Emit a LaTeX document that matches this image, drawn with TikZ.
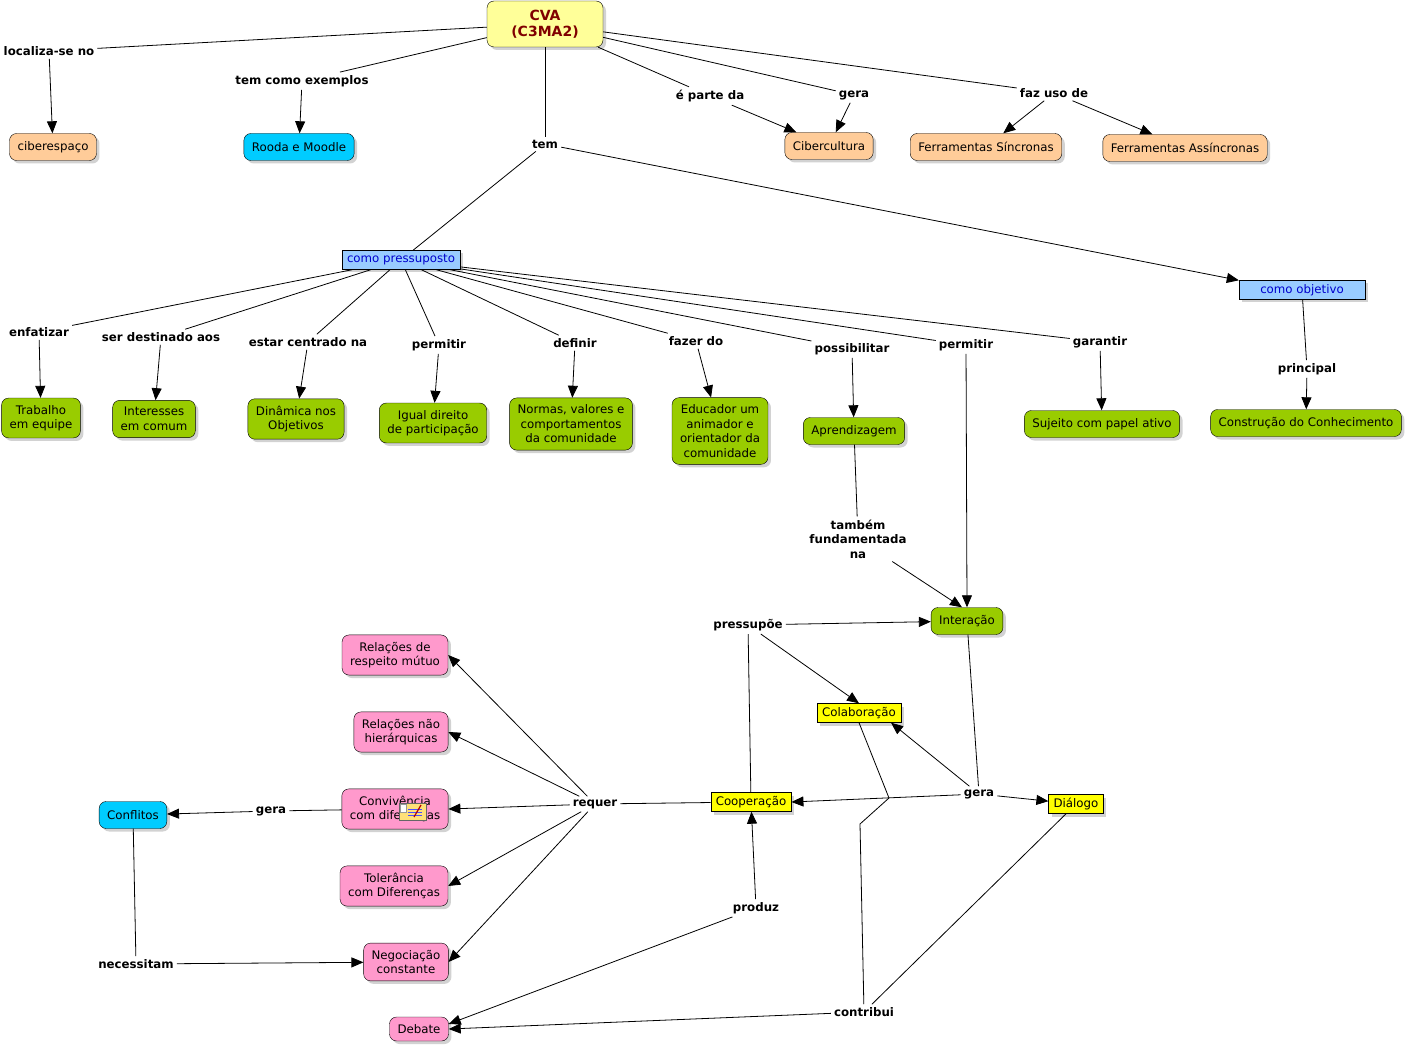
\documentclass[tikz,border=0pt]{standalone}
\usepackage{fontspec}
\setmainfont{DejaVu Sans}
\usepackage{tikz}
\newcommand{\cfont}{\fontsize{11.8}{14.5}\selectfont}
\definecolor{myOrange}{RGB}{255,204,153}
\definecolor{myCyan}{RGB}{0,204,255}
\definecolor{myGreen}{RGB}{153,204,0}
\definecolor{myPink}{RGB}{255,153,204}
\definecolor{myBlue}{RGB}{153,204,255}
\definecolor{myCream}{RGB}{255,255,153}
\definecolor{myYellow}{RGB}{255,255,0}
\definecolor{myRed}{RGB}{128,0,0}
\definecolor{myNote}{RGB}{255,224,120}
\usetikzlibrary{arrows.meta,shadows}
\tikzset{
  >={Triangle[length=12pt,width=10pt]},
  x=1pt,y=-1pt,
  font=\cfont,
  concept/.style={draw,rounded corners=7pt,align=center,inner xsep=8pt,inner ysep=7pt,minimum height=27pt,
    drop shadow={shadow xshift=3pt,shadow yshift=-3pt,fill=black!35}},
  box/.style={draw,align=center,inner xsep=5pt,inner ysep=2pt,minimum height=19pt,
    drop shadow={shadow xshift=3pt,shadow yshift=-3pt,fill=black!35}},
  link/.style={font=\cfont\bfseries,align=center,inner sep=3pt},
  line/.style={draw,line width=0.8pt},
  arrow/.style={line,->},
}

\begin{document}
\begin{tikzpicture}
  \useasboundingbox (0,0) rectangle (1408,1048);
  % concepts
  \node (cva) [concept,fill=myCream,text=myRed,font=\fontsize{14}{16}\selectfont\bfseries,minimum width=116pt,minimum height=46pt,inner ysep=4pt] at (545,24) {CVA\\(C3MA2)};
  \node (ciber) [concept,fill=myOrange] at (53,147) {ciberespaço};
  \node (rooda) [concept,fill=myCyan] at (299,147) {Rooda e Moodle};
  \node (cibercult) [concept,fill=myOrange] at (829,146) {Cibercultura};
  \node (sinc) [concept,fill=myOrange] at (986,147) {Ferramentas Síncronas};
  \node (assinc) [concept,fill=myOrange] at (1185,148) {Ferramentas Assíncronas};
  \node (pressuposto) [box,fill=myBlue,text=blue!80!black] at (401,260) {como pressuposto};
  \node (objetivo) [box,fill=myBlue,text=blue!80!black,minimum width=126pt] at (1302,290) {como objetivo};
  \node (trabalho) [concept,fill=myGreen] at (41,418) {Trabalho\\em equipe};
  \node (interesses) [concept,fill=myGreen] at (154,419) {Interesses\\em comum};
  \node (dinamica) [concept,fill=myGreen] at (296,419) {Dinâmica nos\\Objetivos};
  \node (igual) [concept,fill=myGreen] at (433,423) {Igual direito\\de participação};
  \node (normas) [concept,fill=myGreen] at (571,424) {Normas, valores e\\comportamentos\\da comunidade};
  \node (educador) [concept,fill=myGreen] at (720,431) {Educador um\\animador e\\orientador da\\comunidade};
  \node (aprendizagem) [concept,fill=myGreen] at (854,431) {Aprendizagem};
  \node (sujeito) [concept,fill=myGreen] at (1102,424) {Sujeito com papel ativo};
  \node (construcao) [concept,fill=myGreen] at (1306,423) {Construção do Conhecimento};
  \node (interacao) [concept,fill=myGreen] at (967,621) {Interação};
  \node (colaboracao) [box,fill=myYellow] at (859,713) {Colaboração};
  \node (cooperacao) [box,fill=myYellow] at (751,802) {Cooperação};
  \node (dialogo) [box,fill=myYellow] at (1076,804) {Diálogo};
  \node (respeito) [concept,fill=myPink] at (395,655) {Relações de\\respeito mútuo};
  \node (naohier) [concept,fill=myPink] at (401,732) {Relações não\\hierárquicas};
  \node (convivencia) [concept,fill=myPink] at (395,809) {Convivência\\com diferenças};
  \node (tolerancia) [concept,fill=myPink] at (394,886) {Tolerância\\com Diferenças};
  \node (negociacao) [concept,fill=myPink] at (406,962) {Negociação\\constante};
  \node (debate) [concept,fill=myPink,minimum height=24pt,inner ysep=5pt] at (419,1029) {Debate};
  \node (conflitos) [concept,fill=myCyan] at (133,815) {Conflitos};
  % linking phrases
  \node (localiza) [link] at (49,51) {localiza-se no};
  \node (temex) [link] at (302,81) {tem como exemplos};
  \node (tem) [link] at (545,144) {tem};
  \node (eparte) [link] at (710,96) {é parte da};
  \node (geracult) [link] at (854,95) {gera};
  \node (fazuso) [link] at (1054,93) {faz uso de};
  \node (enfatizar) [link] at (39,332) {enfatizar};
  \node (destinado) [link] at (161,337) {ser destinado aos};
  \node (centrado) [link] at (308,342) {estar centrado na};
  \node (permitira) [link] at (439,345) {permitir};
  \node (definir) [link] at (575,343) {definir};
  \node (fazerdo) [link] at (696,341) {fazer do};
  \node (possibilitar) [link] at (852,349) {possibilitar};
  \node (permitirb) [link] at (966,345) {permitir};
  \node (garantir) [link] at (1100,342) {garantir};
  \node (principal) [link] at (1307,369) {principal};
  \node (tambem) [link] at (858,539) {também\\fundamentada\\na};
  \node (pressupoe) [link] at (748,625) {pressupõe};
  \node (geraint) [link] at (979,794) {gera};
  \node (requer) [link] at (595,804) {requer};
  \node (geraconf) [link] at (271,811) {gera};
  \node (necessitam) [link] at (136,964) {necessitam};
  \node (produz) [link] at (756,908) {produz};
  \node (contribui) [link] at (864,1012) {contribui};
  \coordinate (bendA) at (889,798);
  \coordinate (bendB) at (860,824);
  % connectors
  \path [line] (cva) -- (localiza);
  \path [arrow] (localiza) -- (ciber);
  \path [line] (cva) -- (temex);
  \path [arrow] (temex) -- (rooda);
  \path [line] (cva) -- (tem);
  \path [line] (tem) -- (pressuposto);
  \path [arrow] (tem) -- (objetivo.north west);
  \path [line] (cva) -- (eparte);
  \path [arrow] (eparte) -- (cibercult);
  \path [line] (cva) -- (geracult);
  \path [arrow] (geracult) -- (cibercult);
  \path [line] (cva) -- (fazuso);
  \path [arrow] (fazuso) -- (sinc);
  \path [arrow] (fazuso) -- (assinc);
  \foreach \lk/\cc in {enfatizar/trabalho,destinado/interesses,centrado/dinamica,permitira/igual,
      definir/normas,fazerdo/educador,possibilitar/aprendizagem,garantir/sujeito} {
    \path [line] (pressuposto) -- (\lk);
    \path [arrow] (\lk) -- (\cc);
  }
  \path [line] (pressuposto) -- (permitirb);
  \path [arrow] (permitirb) -- (interacao.north);
  \path [line] (objetivo) -- (principal);
  \path [arrow] (principal) -- (construcao);
  \path [line] (aprendizagem) -- (tambem);
  \path [arrow] (tambem) -- ([xshift=-5pt]interacao.north);
  \path [line] (cooperacao) -- (pressupoe);
  \path [arrow] (pressupoe) -- (interacao);
  \path [arrow] (pressupoe) -- (colaboracao.north);
  \path [line] (interacao) -- (geraint);
  \path [arrow] (geraint) -- ([xshift=-10pt]colaboracao.south east);
  \path [arrow] (geraint) -- (cooperacao.east);
  \path [arrow] (geraint) -- (dialogo);
  \path [line] (cooperacao) -- (requer);
  \foreach \cc in {respeito,naohier,convivencia,tolerancia,negociacao}
    \path [arrow] (requer) -- (\cc.east);
  \path [line] (convivencia) -- (geraconf);
  \path [arrow] (geraconf) -- (conflitos);
  \path [line] (conflitos) -- (necessitam);
  \path [arrow] (necessitam) -- (negociacao);
  \path [arrow] (produz) -- (cooperacao);
  \path [arrow] (produz) -- ([yshift=5pt]debate.east);
  \path [line] (colaboracao.south) -- (bendA) -- (bendB) -- (contribui);
  \path [line] (dialogo) -- (contribui);
  \path [arrow] (contribui) -- (debate.east);
  % note icon
  \draw [fill=myNote,draw=black!60] (399,803) rectangle (426,820);
  \draw [fill=white,draw=black!40] (400,804) rectangle (406,812);
  \foreach \yy in {809,812,815}
    \draw [blue!70,line width=0.8pt] (408,\yy) -- (422,\yy);
  \draw [red!70!black,line width=1.2pt] (414,817) -- (421,805);
\end{tikzpicture}
\end{document}
